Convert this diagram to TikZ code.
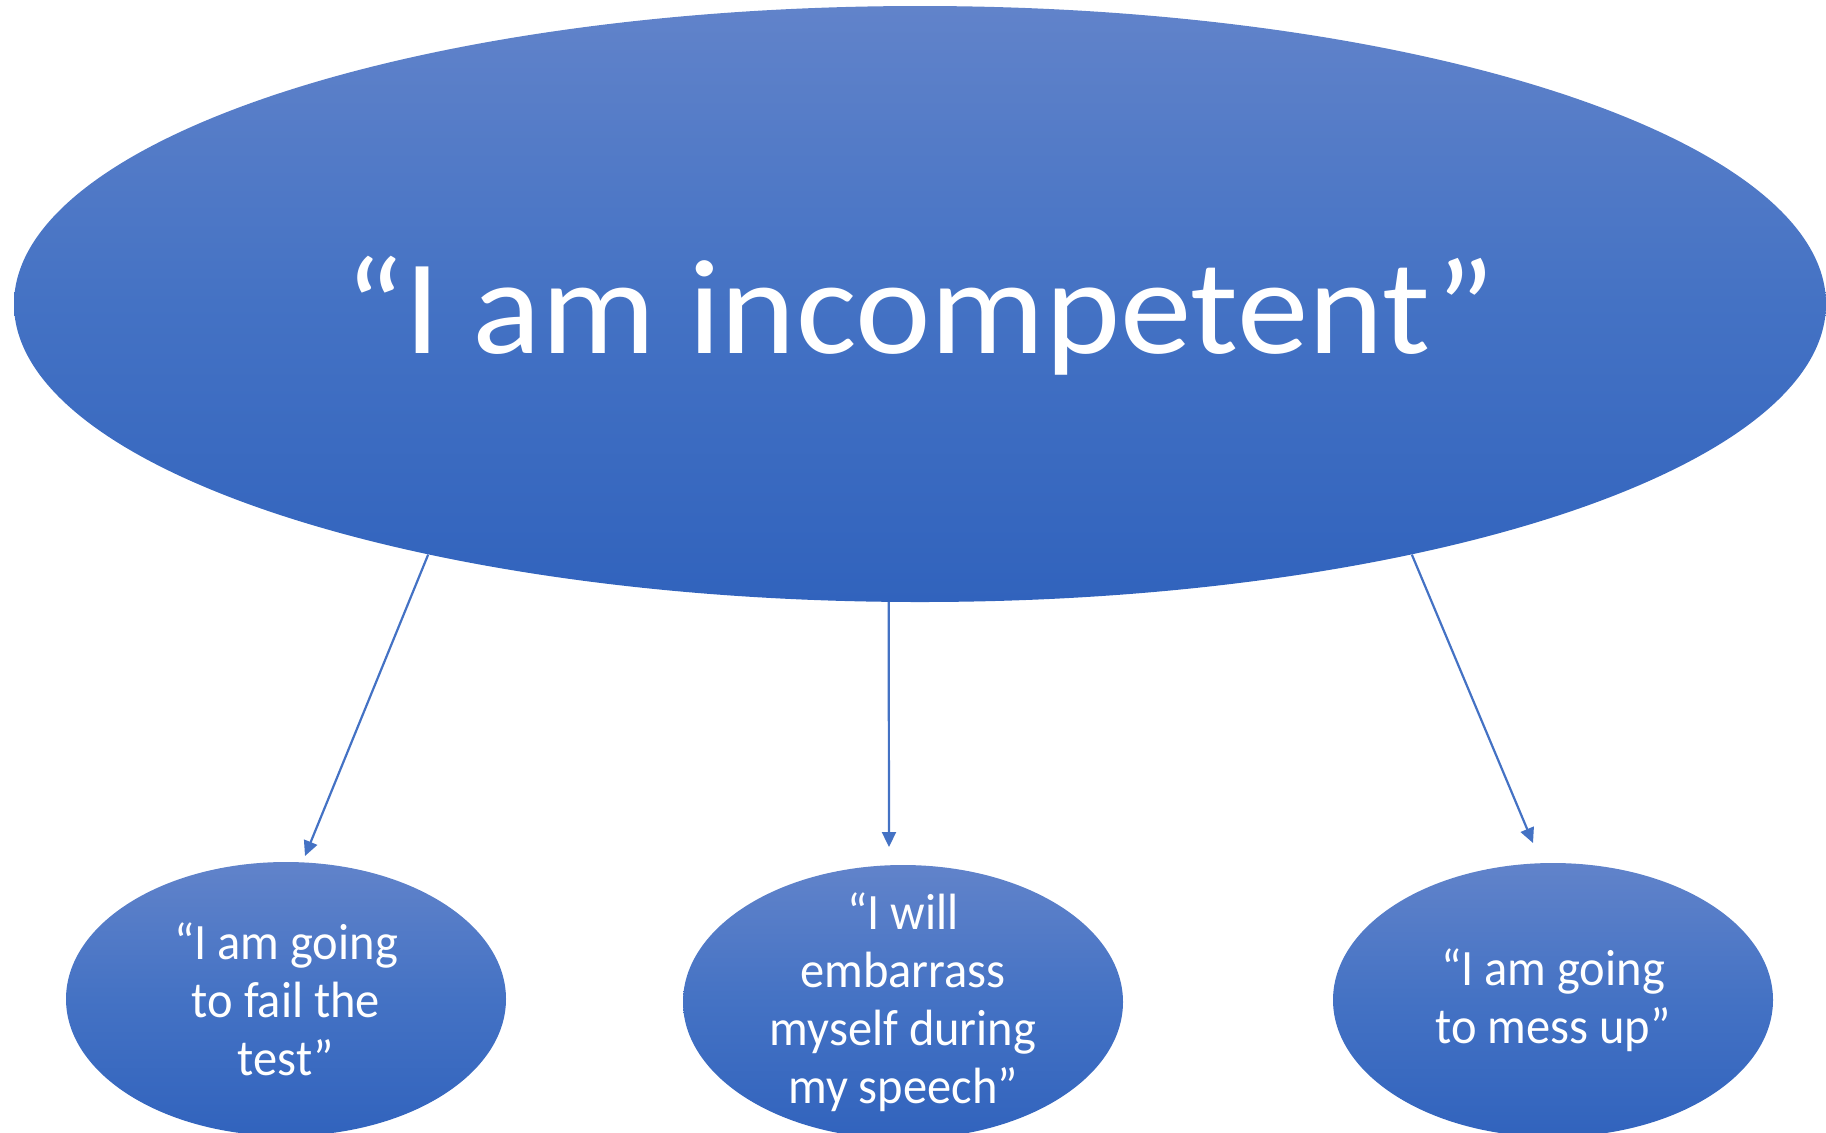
\documentclass[tikz,border=0pt]{standalone}
\usepackage{fontspec}
\setmainfont{Carlito}
\newfontfamily\beliefbig[FakeStretch=1.06]{Carlito}
\newfontfamily\beliefsmall[FakeStretch=0.95]{Carlito}
\usetikzlibrary{shapes.geometric,arrows.meta}
\definecolor{bluetop}{RGB}{97,131,202}
\definecolor{bluemid}{RGB}{68,114,196}
\definecolor{bluebot}{RGB}{49,99,189}
\definecolor{linkblue}{RGB}{68,114,196}

\begin{document}
\begin{tikzpicture}[x=0.5pt,y=-0.5pt,
  thought/.style={ellipse, inner sep=0pt, draw=none, top color=bluetop, bottom color=bluebot, middle color=bluemid},
  bigtxt/.style={text=white, inner sep=0pt, font=\beliefbig\fontsize{67.5}{80}\selectfont},
  smalltxt/.style={text=white, inner sep=0pt, align=center, font=\beliefsmall\fontsize{25.5}{29}\selectfont},
  link/.style={draw=linkblue, line width=1.1pt, -{Triangle[length=7.5pt,width=7pt]}}]
\clip (0,0) rectangle (1826,1132);
% main belief
\node[thought, minimum width=906pt, minimum height=298pt] (core) at (920,304) {};
\node[bigtxt, anchor=base, yshift=-24.5pt] (coretext) at (core.center) {“I am incompetent”};
% the three automatic thoughts
\node[thought, minimum width=220pt, minimum height=137pt] (fail) at (286,999) {};
\node[thought, minimum width=220pt, minimum height=137pt] (speech) at (903,1002) {};
\node[thought, minimum width=220pt, minimum height=137pt] (mess) at (1553,1000) {};
\node[smalltxt] (failtext) at (fail.center) {“I am going\\to fail the\\test”};
\node[smalltxt] (speechtext) at (speech.center) {“I will\\embarrass\\myself during\\my speech”};
\node[smalltxt] (messtext) at (mess.center) {“I am going\\to mess up”};
% arrows stop just above the small ellipses
\coordinate (failtip) at (305,856);
\coordinate (speechtip) at (889,847);
\coordinate (messtip) at (1533,843);
\draw[link] (core.207.3) -- (failtip);
\draw[link] (core.264.1) -- (speechtip);
\draw[link] (core.333.2) -- (messtip);
\end{tikzpicture}
\end{document}
